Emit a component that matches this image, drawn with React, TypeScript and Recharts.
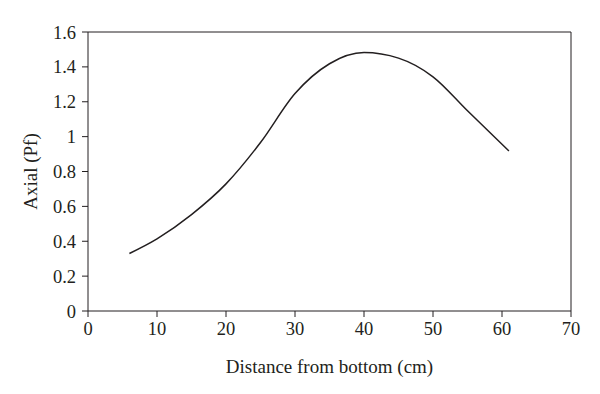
import { Line, LineChart, ReferenceLine, XAxis, YAxis } from "recharts";

const distanceCm = [6, 10, 15, 20, 25, 30, 35, 40, 45, 50, 55, 61];
const axialPf = [0.33, 0.414, 0.553, 0.729, 0.966, 1.247, 1.418, 1.482, 1.45, 1.343, 1.148, 0.918];

const xTicks = [0, 10, 20, 30, 40, 50, 60, 70];
const yTicks = [0, 0.2, 0.4, 0.6, 0.8, 1, 1.2, 1.4, 1.6];

const FONT = "'Liberation Serif', 'DejaVu Serif', serif";
const INK = "#231f20";

const data = distanceCm.map((x, i) => ({ x, y: axialPf[i] }));

export default function App() {
  const tickStyle = { fill: INK, fontSize: 18.5, fontFamily: FONT };
  const labelStyle = { fill: INK, fontSize: 19, fontFamily: FONT };
  return (
    <div style={{ position: "absolute", left: 0, top: 0, background: "#fff" }}>
      <LineChart
        width={600}
        height={394}
        data={data}
        margin={{ top: 32, right: 29, bottom: 23, left: 0 }}
      >
        <XAxis
          dataKey="x"
          type="number"
          domain={[0, 70]}
          ticks={xTicks}
          interval={0}
          height={60}
          stroke={INK}
          tickSize={6}
          tickMargin={5}
          tick={tickStyle}
          label={{
            value: "Distance from bottom (cm)",
            position: "insideBottom",
            offset: -2,
            style: labelStyle
          }}
        />
        <YAxis
          type="number"
          domain={[0, 1.6]}
          ticks={yTicks}
          interval={0}
          width={88}
          stroke={INK}
          tickSize={6}
          tickMargin={6}
          tick={tickStyle}
          label={{
            value: "Axial (Pf)",
            angle: -90,
            position: "insideLeft",
            offset: 30,
            style: { ...labelStyle, textAnchor: "middle" }
          }}
        />
        <ReferenceLine y={1.6} stroke={INK} strokeWidth={1} />
        <ReferenceLine x={70} stroke={INK} strokeWidth={1} />
        <Line
          dataKey="y"
          type="monotone"
          stroke={INK}
          strokeWidth={1.5}
          dot={false}
          isAnimationActive={false}
        />
      </LineChart>
    </div>
  );
}
